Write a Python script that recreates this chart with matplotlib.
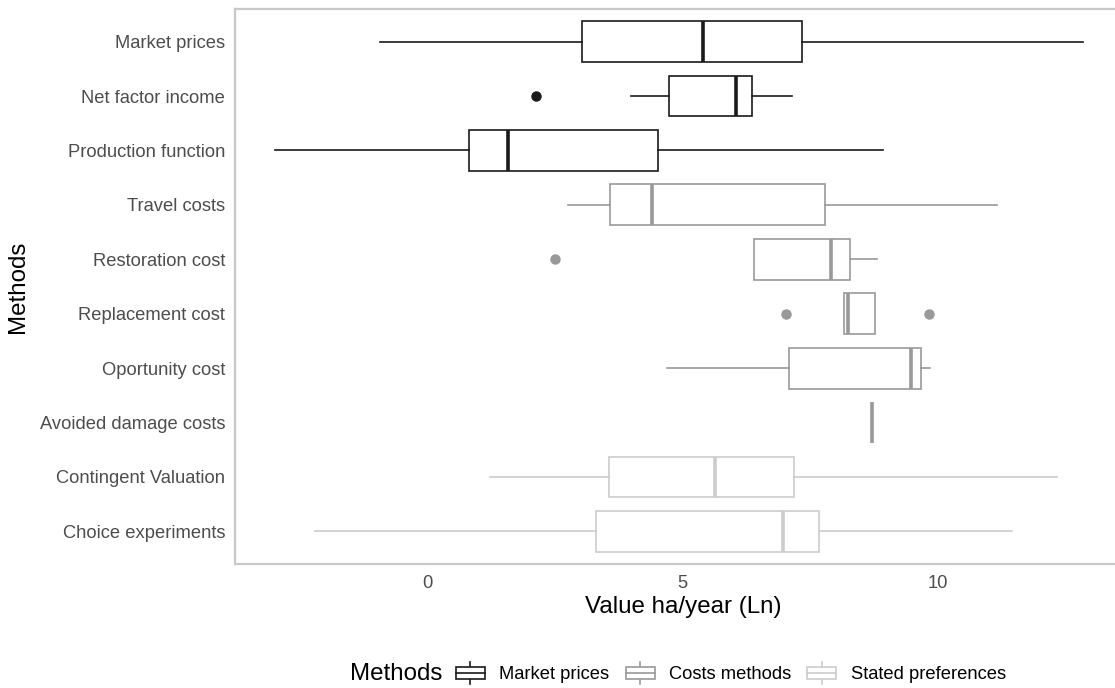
import matplotlib
matplotlib.use("Agg")
import matplotlib.pyplot as plt
from matplotlib.legend_handler import HandlerBase
from matplotlib.patches import Rectangle
from matplotlib.lines import Line2D

plt.rcParams["font.family"] = ["Liberation Sans", "DejaVu Sans"]

# Valuation methods, top to bottom
methods = ["Market prices", "Net factor income", "Production function",
           "Travel costs", "Restoration cost", "Replacement cost",
           "Oportunity cost", "Avoided damage costs",
           "Contingent Valuation", "Choice experiments"]
groups = ["Market prices", "Market prices", "Market prices",
          "Costs methods", "Costs methods", "Costs methods",
          "Costs methods", "Costs methods",
          "Stated preferences", "Stated preferences"]

# Box summaries (Ln value per ha/year)
whisker_low = [-0.92, 3.99, -2.98, 2.76, 6.40, 8.17, 4.69, 8.72, 1.23, -2.20]
q1 = [3.03, 4.73, 0.82, 3.58, 6.40, 8.17, 7.08, 8.72, 3.56, 3.31]
median = [5.40, 6.05, 1.57, 4.40, 7.90, 8.24, 9.48, 8.72, 5.64, 6.97]
q3 = [7.34, 6.36, 4.52, 7.80, 8.29, 8.78, 9.67, 8.72, 7.18, 7.67]
whisker_high = [12.84, 7.14, 8.92, 11.17, 8.80, 8.78, 9.85, 8.72, 12.33, 11.45]
outliers = [[], [2.13], [], [], [2.50], [7.03, 9.83], [], [], [], []]

group_order = ["Market prices", "Costs methods", "Stated preferences"]
group_colors = {"Market prices": "#1a1a1a",
                "Costs methods": "#999999",
                "Stated preferences": "#cccccc"}

W, H = 1115, 688
fig = plt.figure(figsize=(W / 100, H / 100), dpi=100)
ax = fig.add_axes([235 / W, 1 - 564 / H, (1123 - 235) / W, (564 - 9) / H])

for i, name in enumerate(methods):
    col = group_colors[groups[i]]
    stats = [dict(med=median[i], q1=q1[i], q3=q3[i],
                  whislo=whisker_low[i], whishi=whisker_high[i],
                  fliers=outliers[i], label=name)]
    ax.bxp(stats, positions=[i + 1], widths=0.75, orientation="horizontal",
           showcaps=False, patch_artist=True,
           boxprops=dict(facecolor="white", edgecolor=col, linewidth=1.2),
           medianprops=dict(color=col, linewidth=2.6, solid_capstyle="butt"),
           whiskerprops=dict(color=col, linewidth=1.2),
           flierprops=dict(marker="o", markerfacecolor=col,
                           markeredgecolor=col, markersize=6.5))

ax.set_ylim(10.6, 0.4)
ax.set_xlim(-3.77, 13.63)
ax.set_yticks(range(1, len(methods) + 1))
ax.set_yticklabels(methods)
ax.set_xticks([0, 5, 10])
ax.set_xticklabels(["0", "5", "10"])
ax.tick_params(axis="both", length=0, labelsize=13.2, colors="#4d4d4d")
ax.tick_params(axis="y", pad=7)
ax.tick_params(axis="x", pad=8)
for s in ax.spines.values():
    s.set_color("#c8c8c8")
    s.set_linewidth(1.6)

fig.text(683 / W, 1 - 607 / H, "Value ha/year (Ln)", ha="center",
         va="center", fontsize=17.4, color="black")
fig.text(18 / W, 1 - 287 / H, "Methods", ha="center", va="center",
         rotation=90, fontsize=17.4, color="black")


class BoxKeyHandler(HandlerBase):
    def create_artists(self, legend, orig_handle, xdescent, ydescent,
                       width, height, fontsize, trans):
        col = orig_handle.get_edgecolor()
        x0, y0 = -xdescent, -ydescent
        cx = x0 + width / 2
        bh = height * 0.5
        by = y0 + (height - bh) / 2
        rect = Rectangle((x0, by), width, bh, facecolor="white",
                         edgecolor=col, linewidth=1.2, transform=trans)
        mid = Line2D([x0, x0 + width], [y0 + height / 2] * 2, color=col,
                     linewidth=1.2, transform=trans)
        top = Line2D([cx, cx], [by + bh, y0 + height], color=col,
                     linewidth=1.2, transform=trans)
        bot = Line2D([cx, cx], [y0, by], color=col,
                     linewidth=1.2, transform=trans)
        return [top, bot, rect, mid]


handles = [Rectangle((0, 0), 1, 1, facecolor="white",
                     edgecolor=group_colors[g]) for g in group_order]
leg = fig.legend(handles, group_order, loc="center",
                 bbox_to_anchor=(731 / W, 1 - 673 / H), ncol=3,
                 frameon=False, fontsize=13.2, handlelength=1.58,
                 handleheight=1.5, handletextpad=0.8, columnspacing=0.87,
                 handler_map={Rectangle: BoxKeyHandler()})
fig.text(396 / W, 1 - 674 / H, "Methods", ha="center", va="center",
         fontsize=17.4, color="black")

fig.savefig("out.png", dpi=100)
